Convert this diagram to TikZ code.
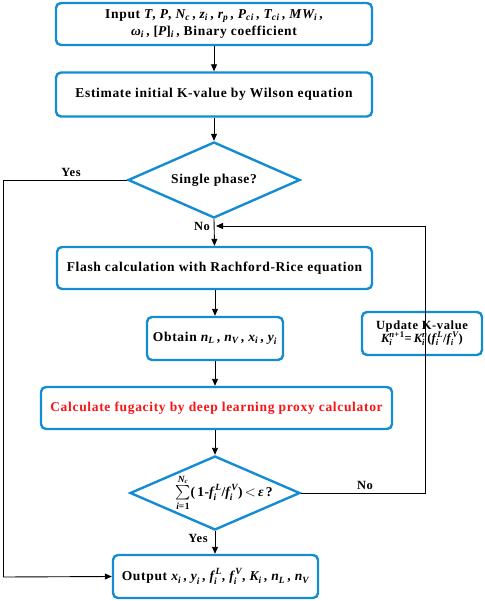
\documentclass[tikz,border=0pt]{standalone}
\usepackage{amsmath}
\usepackage{fontspec}
\setmainfont{Liberation Serif}[LetterSpace=5]
\usetikzlibrary{arrows.meta,shapes.geometric}
\definecolor{bblue}{RGB}{20,140,210}
\definecolor{fred}{RGB}{250,20,20}
\newcommand{\bi}[1]{\text{\bfseries\itshape #1}}
\newcommand{\bu}[1]{\text{\bfseries #1}}
\tikzset{
  x=1pt,y=-1pt,
  pbox/.style={draw=bblue,line width=2.4pt,rounded corners=5pt,fill=white,align=center,font=\bfseries\fontsize{13.5}{17}\selectfont,inner sep=0pt},
  dec/.style={draw=bblue,line width=2.4pt,diamond,aspect=2.25,inner sep=0pt},
  dtext/.style={font=\bfseries\fontsize{13.5}{17}\selectfont,inner sep=0pt,align=center},
  arr/.style={draw=black,line width=0.9pt,-{Triangle[length=7pt,width=6pt]}},
  ln/.style={draw=black,line width=0.9pt},
  lbl/.style={font=\bfseries\fontsize{12.5}{14}\selectfont,inner sep=0pt}
}
\begin{document}
\begin{tikzpicture}
\useasboundingbox (0,0) rectangle (484,601);
\node[pbox,minimum width=316pt,minimum height=42pt] (in) at (214,24)
  {Input $\bi{T}$, $\bi{P}$, $\bi{N}_{\bi{c}}$\,, $\bi{z}_{\bi{i}}$\,, $\bi{r}_{\bi{p}}$\,, $\bi{P}_{\bi{ci}}$\,, $\bi{T}_{\bi{ci}}$\,, $\bi{MW}_{\bi{i}}$\,,\\ $\bi{ω}_{\bi{i}}$\,, [$\bi{P}$]$_{\bi{i}}$\,, Binary coefficient};
\node[pbox,minimum width=316pt,minimum height=44pt] (est) at (214,94.5)
  {Estimate initial K-value by Wilson equation};
\node[dec,minimum width=172pt,minimum height=76pt] (sp) at (214,180) {};
\node[dtext] (spt) at (sp.center) {Single phase?};
\node[pbox,minimum width=315pt,minimum height=42pt] (fl) at (214.5,268)
  {Flash calculation with Rachford-Rice equation};
\node[pbox,minimum width=136pt,minimum height=43pt] (ob) at (215,338.5)
  {Obtain $\bi{n}_{\bi{L}}$\,, $\bi{n}_{\bi{V}}$\,, $\bi{x}_{\bi{i}}$\,, $\bi{y}_{\bi{i}}$};
\node[pbox,minimum width=120pt,minimum height=43pt,font=\bfseries\fontsize{12.5}{15}\selectfont] (up) at (422,333.5)
  {Update K-value\\[-2pt] $\bi{K}_{\bi{i}}^{\bi{n}\bu{+1}}\bu{=}\,\bi{K}_{\bi{i}}^{\bi{n}}\bu{(}\bi{f}_{\bi{i}}^{\,\bi{L}}\bu{/}\bi{f}_{\bi{i}}^{\,\bi{V}}\bu{)}$};
\node[pbox,minimum width=351pt,minimum height=42pt,text=fred] (fu) at (216.5,408)
  {Calculate fugacity by deep learning proxy calculator};
\node[dec,minimum width=170pt,minimum height=74pt] (cv) at (215,493) {};
\node[dtext] (cvt) at ([xshift=9pt]cv.center)
  {$\sum\limits_{\bi{i}\bu{=1}}^{\bi{N}_{\bi{c}}}$\bu{(}\,\bu{1-}$\bi{f}_{\bi{i}}^{\,\bi{L}}$\bu{/}$\bi{f}_{\bi{i}}^{\,\bi{V}}$\bu{)}\,$<$\,$\bi{ε}$\,\bu{?}};
\node[pbox,minimum width=205pt,minimum height=43pt] (out) at (215.5,576.5)
  {Output $\bi{x}_{\bi{i}}$\,, $\bi{y}_{\bi{i}}$\,, $\bi{f}_{\bi{i}}^{\,\bi{L}}$, $\bi{f}_{\bi{i}}^{\,\bi{V}}$, $\bi{K}_{\bi{i}}$\,, $\bi{n}_{\bi{L}}$\,, $\bi{n}_{\bi{V}}$};
\coordinate (yl) at (3,180);
\coordinate (yb) at (3,577);
\coordinate (nr) at (425,226);
\coordinate (nb) at (425,493);
\coordinate (nin) at (214,226);
\draw[arr] (in.south) -- (est.north);
\draw[arr] (est.south) -- (sp.north);
\draw[arr] (sp.south) -- (fl.north);
\draw[arr] (fl.south -| ob.north) -- (ob.north);
\draw[arr] (ob.south) -- (ob.south |- fu.north);
\draw[arr] (fu.south -| cv.north) -- (cv.north);
\draw[arr] (cv.south) -- (cv.south |- out.north);
\draw[ln] (sp.west) -- (yl) -- (yb);
\draw[arr] (yb) -- (out.west);
\draw[ln] (cv.east) -- (nb) -- (nr);
\draw[arr] (nr) -- ([xshift=2pt]nin);
\node[lbl] (yes1) at (71,172) {Yes};
\node[lbl] (no1) at (202,226) {No};
\node[lbl] (no2) at (365,485) {No};
\node[lbl] (yes2) at (198,538) {Yes};
\end{tikzpicture}
\end{document}
